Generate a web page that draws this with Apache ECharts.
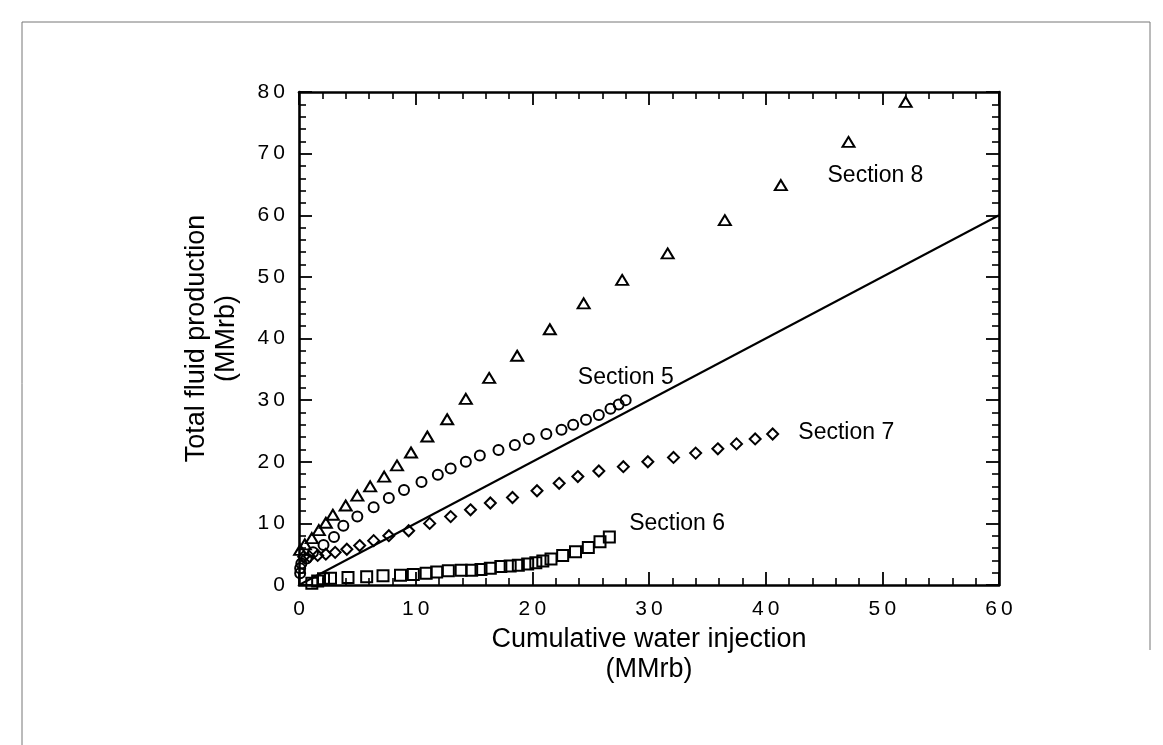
<!DOCTYPE html>
<html><head><meta charset="utf-8">
<script src="https://cdn.jsdelivr.net/npm/echarts@6/dist/echarts.min.js"></script>
<style>html,body{margin:0;padding:0;background:#fff}#c{width:1163px;height:745px}</style>
</head><body><div id="c"></div>
<script>
// Section 8 (triangles): [cumulative water injection, total fluid production]
const section8 = [[0.1,5.7],[0.5,6.6],[1.1,7.6],[1.7,8.9],[2.3,10.1],[2.9,11.4],[4.0,12.9],[5.0,14.5],[6.1,16.0],[7.3,17.6],[8.4,19.4],[9.6,21.5],[11.0,24.1],[12.7,26.9],[14.3,30.2],[16.3,33.6],[18.7,37.2],[21.5,41.5],[24.4,45.7],[27.7,49.5],[31.6,53.8],[36.5,59.2],[41.3,64.9],[47.1,71.9],[52.0,78.4]];
// Section 5 (circles)
const section5 = [[0.1,1.9],[0.1,2.7],[0.2,3.5],[0.65,4.3],[1.2,5.3],[2.1,6.5],[3.0,7.8],[3.8,9.6],[5.0,11.1],[6.4,12.6],[7.7,14.1],[9.0,15.4],[10.5,16.7],[11.9,17.9],[13.0,18.9],[14.3,20.0],[15.5,21.0],[17.1,21.9],[18.5,22.7],[19.7,23.7],[21.2,24.5],[22.5,25.2],[23.5,26.0],[24.6,26.8],[25.7,27.6],[26.7,28.6],[27.4,29.3],[28.0,30.0]];
// Section 7 (diamonds)
const section7 = [[0.4,4.6],[0.9,4.6],[1.6,4.8],[2.3,5.0],[3.1,5.3],[4.1,5.8],[5.2,6.4],[6.4,7.2],[7.7,8.0],[9.4,8.8],[11.2,10.0],[13.0,11.1],[14.7,12.2],[16.4,13.3],[18.3,14.2],[20.4,15.3],[22.3,16.5],[23.9,17.6],[25.7,18.5],[27.8,19.2],[29.9,20.0],[32.1,20.7],[34.0,21.4],[35.9,22.1],[37.5,22.9],[39.1,23.7],[40.6,24.5]];
// Section 6 (squares)
const section6 = [[1.1,0.3],[1.6,0.65],[2.1,1.0],[2.7,1.1],[4.2,1.2],[5.8,1.35],[7.2,1.5],[8.7,1.6],[9.8,1.7],[10.9,1.9],[11.8,2.1],[12.8,2.3],[13.9,2.4],[14.8,2.4],[15.6,2.5],[16.4,2.7],[17.3,3.0],[18.1,3.1],[18.8,3.2],[19.6,3.4],[20.3,3.6],[20.9,3.9],[21.6,4.2],[22.6,4.8],[23.7,5.4],[24.8,6.1],[25.8,7.0],[26.6,7.8]];
// unit-slope reference line
const unitLine = [[0,0],[60,60]];
// section labels: [name, x, y] in data units
const sectionLabels = [['Section 8',45.3,66.4],['Section 5',23.9,33.6],['Section 7',42.8,24.8],['Section 6',28.3,9.9]];
const xTitle = 'Cumulative water injection\n(MMrb)';
const yTitle = 'Total fluid production\n(MMrb)';

const spaced = v => String(v).split('').join('\u2009');
const FONT = 'Liberation Sans, Arial, sans-serif';
const axisCommon = {
  axisLine:{show:true,onZero:false,lineStyle:{color:'#000',width:2.6}},
  axisTick:{show:true,inside:true,length:13,lineStyle:{color:'#000',width:1.8}},
  minorTick:{show:true,splitNumber:5,length:7,lineStyle:{color:'#000',width:1.6}},
  splitLine:{show:false}
};
function xAx(pos, labels){
  return Object.assign({type:'value',position:pos,min:0,max:60,interval:10,
    axisLabel:{show:labels,margin:14,color:'#000',fontSize:21,fontFamily:FONT,formatter:spaced},
    name: labels? xTitle : '', nameLocation:'middle', nameGap:40,
    nameTextStyle:{color:'#000',fontSize:27,fontFamily:FONT,lineHeight:30}}, axisCommon);
}
function yAx(pos, labels){
  return Object.assign({type:'value',position:pos,min:0,max:80,interval:10,
    axisLabel:{show:labels,margin:14,color:'#000',fontSize:21,fontFamily:FONT,formatter:spaced},
    name: labels? yTitle : '', nameLocation:'middle', nameGap:57, nameRotate:90,
    nameTextStyle:{color:'#000',fontSize:27,fontFamily:FONT,lineHeight:30}}, axisCommon);
}
const hollow = {color:'rgba(0,0,0,0)',borderColor:'#000',borderWidth:2,opacity:1};
const chart = echarts.init(document.getElementById('c'),null,{renderer:'canvas'});
chart.setOption({
  backgroundColor:'#fff',
  animation:false,
  grid:{left:299,right:164,top:92,bottom:160,containLabel:false},
  xAxis:[xAx('bottom',true), xAx('top',false)],
  yAxis:[yAx('left',true), yAx('right',false)],
  graphic:[
    {type:'polyline',shape:{points:[[22,745],[22,22],[1150,22],[1150,650]]},style:{stroke:'#777',lineWidth:1,fill:null},silent:true}
  ],
  series:[
    {type:'line',data:unitLine,showSymbol:false,symbol:'none',lineStyle:{color:'#000',width:2},z:1},
    {type:'scatter',data:section8,symbol:'triangle',symbolSize:[12,10],itemStyle:hollow},
    {type:'scatter',data:section5,symbol:'circle',symbolSize:10,itemStyle:hollow},
    {type:'scatter',data:section7,symbol:'diamond',symbolSize:[11,11],itemStyle:hollow},
    {type:'scatter',data:section6,symbol:'rect',symbolSize:[11,11],itemStyle:hollow},
    {type:'scatter',data:sectionLabels.map(d=>({name:d[0],value:[d[1],d[2]]})),symbolSize:0,
      itemStyle:{opacity:1},
      label:{show:true,position:'right',distance:0,formatter:p=>p.name,color:'#000',fontSize:23,fontFamily:FONT}}
  ]
});
</script></body></html>
